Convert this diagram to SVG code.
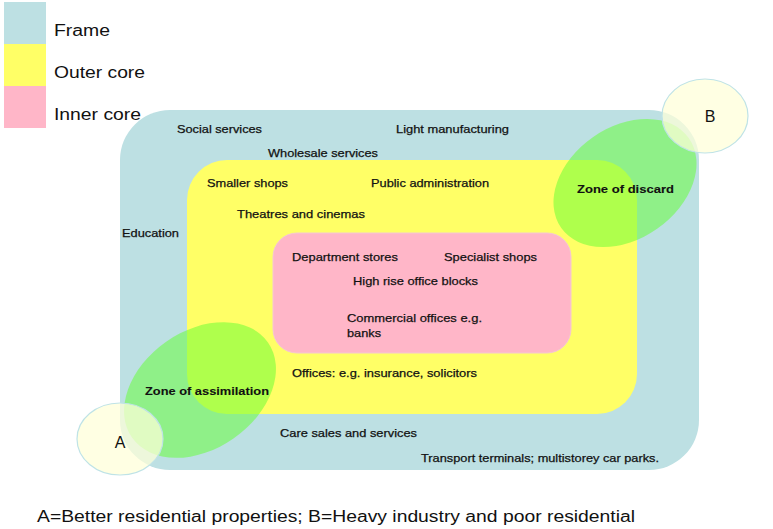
<svg xmlns="http://www.w3.org/2000/svg" width="773" height="529" viewBox="0 0 773 529">
<style>
.t{font-family:"Liberation Sans",Arial,sans-serif;font-size:11.5px;fill:#111;stroke:#111;stroke-width:0.25px;}
.b{font-weight:bold;stroke-width:0.1px;}
.leg{font-family:"Liberation Sans",Arial,sans-serif;font-size:16px;fill:#111;}
.zone{fill:#66ff33;fill-opacity:0.52;}
.res{fill:#ffffd8;fill-opacity:0.72;stroke:#bfe3e6;stroke-width:1.2;}
</style>
<rect width="773" height="529" fill="#ffffff"/>
<g id="legend">
<rect x="4" y="2" width="42" height="42" fill="#bde0e3"/>
<rect x="4" y="44" width="42" height="42" fill="#ffff66"/>
<rect x="4" y="86" width="42" height="42" fill="#ffb6c8"/>
<text class="leg" x="54" y="36" textLength="56" lengthAdjust="spacingAndGlyphs">Frame</text>
<text class="leg" x="54" y="78" textLength="91" lengthAdjust="spacingAndGlyphs">Outer core</text>
<text class="leg" x="54" y="120" textLength="87" lengthAdjust="spacingAndGlyphs">Inner core</text>
</g>
<g id="frame">
<rect x="120" y="110" width="579" height="360" rx="50" ry="50" fill="#bde0e3"/>
<text class="t" x="177" y="133" textLength="85" lengthAdjust="spacingAndGlyphs">Social services</text>
<text class="t" x="396" y="133" textLength="113" lengthAdjust="spacingAndGlyphs">Light manufacturing</text>
<text class="t" x="268" y="157" textLength="110" lengthAdjust="spacingAndGlyphs">Wholesale services</text>
<text class="t" x="122" y="237" textLength="57" lengthAdjust="spacingAndGlyphs">Education</text>
<text class="t" x="280" y="437" textLength="137" lengthAdjust="spacingAndGlyphs">Care sales and services</text>
<text class="t" x="421" y="462" textLength="238" lengthAdjust="spacingAndGlyphs">Transport terminals; multistorey car parks.</text>
</g>
<g id="outer-core">
<rect x="187" y="160" width="450" height="254" rx="40" ry="40" fill="#ffff66"/>
<text class="t" x="207" y="187" textLength="81" lengthAdjust="spacingAndGlyphs">Smaller shops</text>
<text class="t" x="371" y="187" textLength="118" lengthAdjust="spacingAndGlyphs">Public administration</text>
<text class="t" x="237" y="218" textLength="128" lengthAdjust="spacingAndGlyphs">Theatres and cinemas</text>
<text class="t" x="292" y="377" textLength="185" lengthAdjust="spacingAndGlyphs">Offices: e.g. insurance, solicitors</text>
</g>
<g id="inner-core">
<rect x="273" y="233" width="298" height="120" rx="24" ry="24" fill="#ffb6c8" stroke="#f5c8d2" stroke-width="1"/>
<text class="t" x="292" y="261" textLength="106" lengthAdjust="spacingAndGlyphs">Department stores</text>
<text class="t" x="444" y="261" textLength="93" lengthAdjust="spacingAndGlyphs">Specialist shops</text>
<text class="t" x="353" y="285" textLength="125" lengthAdjust="spacingAndGlyphs">High rise office blocks</text>
<text class="t" x="347" y="322" textLength="135" lengthAdjust="spacingAndGlyphs">Commercial offices e.g.</text>
<text class="t" x="347" y="337" textLength="34" lengthAdjust="spacingAndGlyphs">banks</text>
</g>
<g id="zone-discard">
<ellipse class="zone" cx="625" cy="183" rx="78" ry="56" transform="rotate(-35 625 183)"/>
<text class="t b" x="577" y="193" textLength="97" lengthAdjust="spacingAndGlyphs">Zone of discard</text>
</g>
<g id="zone-assimilation">
<ellipse class="zone" cx="200" cy="390" rx="83" ry="59" transform="rotate(-35 200 390)"/>
<text class="t b" x="145" y="395" textLength="124" lengthAdjust="spacingAndGlyphs">Zone of assimilation</text>
</g>
<g id="area-a">
<ellipse class="res" cx="120" cy="439" rx="43" ry="36"/>
<text class="leg" x="120" y="448" text-anchor="middle">A</text>
</g>
<g id="area-b">
<ellipse class="res" cx="705" cy="116" rx="43" ry="37"/>
<text class="leg" x="710" y="122" text-anchor="middle">B</text>
</g>
<g id="connectors"></g>
<g id="caption">
<text class="leg" x="37" y="522" textLength="598" lengthAdjust="spacingAndGlyphs">A=Better residential properties; B=Heavy industry and poor residential</text>
</g>
</svg>
